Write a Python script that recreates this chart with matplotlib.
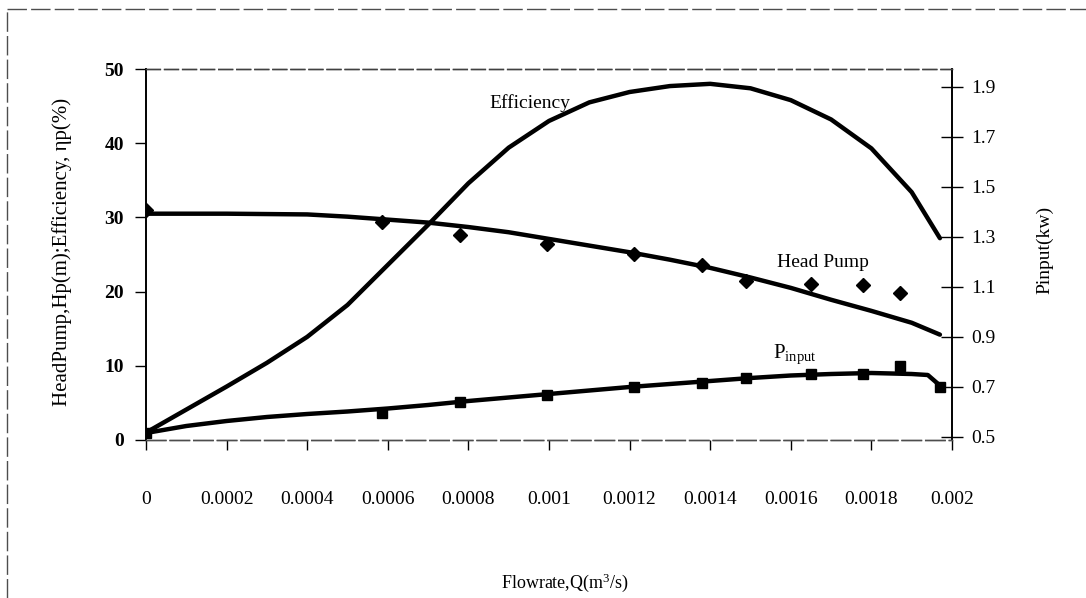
import numpy as np
import matplotlib
matplotlib.use('Agg')
import matplotlib.pyplot as plt
from matplotlib.lines import Line2D

plt.rcParams['font.family'] = ['Liberation Serif', 'DejaVu Serif']
plt.rcParams['mathtext.fontset'] = 'custom'
plt.rcParams['mathtext.rm'] = 'Liberation Serif'
plt.rcParams['mathtext.it'] = 'Liberation Serif:italic'

# medidas (puntos)
q_pts = [0, 0.000586, 0.000779, 0.000995, 0.00121, 0.00138, 0.00149, 0.00165, 0.00178, 0.00187]
head_pts = [31.0, 29.4, 27.6, 26.4, 25.1, 23.6, 21.4, 21.0, 20.9, 19.8]

qp_pts = [0, 0.000586, 0.000779, 0.000995, 0.00121, 0.00138, 0.00149, 0.00165, 0.00178, 0.00187, 0.00197]
pin_pts = [0.516, 0.596, 0.640, 0.668, 0.700, 0.716, 0.736, 0.752, 0.752, 0.784, 0.702]

# curvas
q_head = [0, 0.0002, 0.0004, 0.0005, 0.0006, 0.0007, 0.0008, 0.0009, 0.001, 0.0011, 0.0012, 0.0013,
          0.0014, 0.0015, 0.0016, 0.0017, 0.0018, 0.0019, 0.00197]
head_curve = [30.5, 30.5, 30.4, 30.1, 29.7, 29.3, 28.7, 28.0, 27.1, 26.2, 25.3, 24.3,
              23.2, 21.9, 20.5, 18.9, 17.4, 15.8, 14.2]

q_eff = [0, 0.0001, 0.0002, 0.0003, 0.0004, 0.0005, 0.0006, 0.0007, 0.0008, 0.0009, 0.001,
         0.0011, 0.0012, 0.0013, 0.0014, 0.0015, 0.0016, 0.0017, 0.0018, 0.0019, 0.00197]
eff_curve = [1.0, 4.1, 7.2, 10.4, 13.9, 18.2, 23.6, 29.0, 34.6, 39.4, 43.0,
             45.5, 46.9, 47.7, 48.0, 47.4, 45.8, 43.2, 39.3, 33.4, 27.2]

q_pin = [0, 0.0001, 0.0002, 0.0003, 0.0004, 0.0005, 0.0006, 0.0007, 0.0008, 0.0009, 0.001,
         0.0011, 0.0012, 0.0013, 0.0014, 0.0015, 0.0016, 0.0017, 0.0018, 0.0019, 0.00194, 0.00197]
pin_curve = [0.516, 0.544, 0.564, 0.580, 0.592, 0.602, 0.614, 0.628, 0.644, 0.658, 0.672,
             0.686, 0.700, 0.712, 0.724, 0.736, 0.746, 0.752, 0.756, 0.752, 0.748, 0.706]

x_ticks = [0, 0.0002, 0.0004, 0.0006, 0.0008, 0.001, 0.0012, 0.0014, 0.0016, 0.0018, 0.002]
x_labels = ['0', '0.0002', '0.0004', '0.0006', '0.0008', '0.001', '0.0012', '0.0014', '0.0016', '0.0018', '0.002']
left_ticks = [0, 10, 20, 30, 40, 50]
right_ticks = [0.5, 0.7, 0.9, 1.1, 1.3, 1.5, 1.7, 1.9]

W, H = 1086, 598
fig = plt.figure(figsize=(W / 100, H / 100), dpi=100)
ax = fig.add_axes([146 / W, 1 - 440 / H, (952 - 146) / W, (440 - 69) / H])
ax2 = ax.twinx()

lw = 3.2
line_kw = dict(lw=lw, solid_capstyle='round', solid_joinstyle='round')
ax.plot(q_eff, eff_curve, '-k', **line_kw)
ax.plot(q_head, head_curve, '-k', **line_kw)
ax.plot(q_pts, head_pts, 'D', color='k', ms=7)
ax2.plot(q_pin, pin_curve, '-k', **line_kw)
ax2.plot(qp_pts, pin_pts, 's', color='k', ms=7)

ax.set_xlim(0, 0.002)
ax.set_ylim(0, 50)
ax2.set_ylim(0.488, 1.972)

ax.set_xticks(x_ticks)
ax.set_xticklabels(x_labels, fontsize=14)
ax.set_yticks(left_ticks)
ax.set_yticklabels([str(t) for t in left_ticks], fontsize=14, fontweight='bold')
ax2.set_yticks(right_ticks)
ax2.set_yticklabels(['%.1f' % t for t in right_ticks], fontsize=14)

ax.tick_params(axis='x', direction='out', length=7, width=1, pad=30)
ax.tick_params(axis='y', direction='out', length=8, width=1, pad=8)
ax2.tick_params(axis='y', direction='inout', length=16, width=1, pad=6)

for a in (ax, ax2):
    a.spines['left'].set_linewidth(1.2)
    a.spines['right'].set_linewidth(1.2)
    a.spines['top'].set_linewidth(1.0)
    a.spines['top'].set_linestyle((0, (10, 3)))
    a.spines['top'].set_color('0.25')
    a.spines['bottom'].set_linewidth(1.0)
    a.spines['bottom'].set_linestyle((0, (14, 3)))
    a.spines['bottom'].set_color('0.3')

# etiquetas
ax.text(0.000953, 45.4, 'Efficiency', fontsize=14, ha='center', va='center')
ax.text(0.00168, 23.9, 'Head Pump', fontsize=14, ha='center', va='center')
ax.text(0.001555, 11.6, r'P$_{\mathrm{input}}$', fontsize=15, ha='left', va='center')

fig.text(62 / W, 1 - 252 / H, 'HeadPump,Hp(m);Efficiency, ηp(%)', fontsize=15,
         rotation=90, ha='center', va='center')
fig.text(1045 / W, 1 - 250 / H, 'Pinput(kw)', fontsize=14, rotation=90, ha='center', va='center')
fig.text(565 / W, 1 - 583 / H, r'Flowrate,Q(m$^{3}$/s)', fontsize=13, ha='center', va='center')

# marco exterior
fig.add_artist(Line2D([7 / W, 1], [1 - 9 / H, 1 - 9 / H], color='0.3', lw=1,
                      linestyle=(0, (14, 3)), transform=fig.transFigure))
fig.add_artist(Line2D([7 / W, 7 / W], [0, 1 - 9 / H], color='0.3', lw=1,
                      linestyle=(0, (14, 3)), transform=fig.transFigure))

fig.savefig('out.png', dpi=100)
